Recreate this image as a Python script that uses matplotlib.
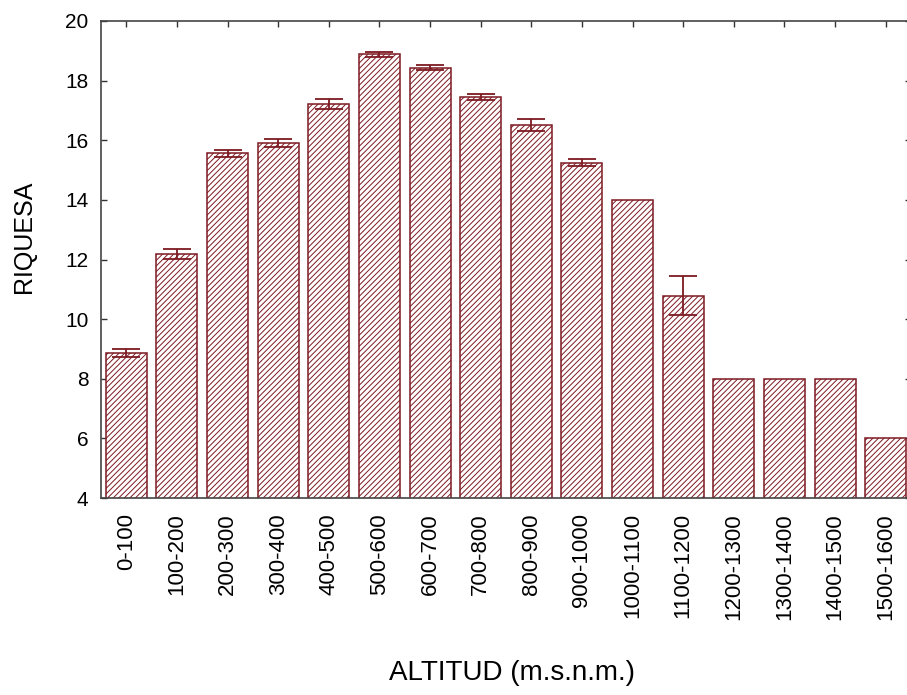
import matplotlib
matplotlib.use("Agg")
import matplotlib.pyplot as plt
import numpy as np

# Altitude bands and mean richness
altitudes = [
    "0-100", "100-200", "200-300", "300-400", "400-500", "500-600",
    "600-700", "700-800", "800-900", "900-1000", "1000-1100", "1100-1200",
    "1200-1300", "1300-1400", "1400-1500", "1500-1600",
]
riquesa = [8.87, 12.19, 15.56, 15.90, 17.22, 18.88, 18.43, 17.46,
           16.51, 15.25, 14.0, 10.79, 8.0, 8.0, 8.0, 6.0]
# Standard error of each mean
error = [0.13, 0.16, 0.12, 0.13, 0.16, 0.08, 0.09, 0.10,
         0.21, 0.13, 0.0, 0.66, 0.0, 0.0, 0.0, 0.0]

BAR_COLOUR = "#7d1a22"

plt.rcParams["font.family"] = ["Liberation Sans", "DejaVu Sans"]
plt.rcParams["hatch.linewidth"] = 0.7

fig = plt.figure(figsize=(9.07, 6.95), dpi=100)
# axes run a little past the right edge, as in the reference
ax = fig.add_axes([101 / 907, 1 - 498 / 695, 810 / 907, 477 / 695])

x = np.arange(len(altitudes))
ax.bar(x, riquesa, width=0.81, bottom=0, color="white",
       edgecolor=BAR_COLOUR, hatch="//////", linewidth=1.1, zorder=2)

# only draw error bars where there is an error
has_err = np.array(error) > 0
ax.errorbar(x[has_err], np.array(riquesa)[has_err], yerr=np.array(error)[has_err],
            fmt="none", ecolor=BAR_COLOUR, elinewidth=1.3, capsize=10,
            capthick=1.3, zorder=3)

ax.set_xlim(-0.5, 15.5)
ax.set_ylim(4, 20)
ax.set_yticks(range(4, 21, 2))
ax.set_xticks(x)
ax.set_xticklabels(altitudes, rotation=90, fontsize=16)
ax.tick_params(axis="y", labelsize=15, pad=9)
ax.tick_params(direction="in", top=True, right=True, length=4, width=1.0,
               colors="#333333", labelcolor="black")
ax.tick_params(axis="x", pad=11)

for spine in ax.spines.values():
    spine.set_color("#444444")
    spine.set_linewidth(1.2)

ax.set_ylabel("RIQUESA", fontsize=18)
ax.yaxis.set_label_coords(-0.08, 0.547)
ax.set_xlabel("ALTITUD (m.s.n.m.)", fontsize=20)
ax.xaxis.set_label_coords(0.507, -0.34)

fig.savefig("out.png", dpi=100)
